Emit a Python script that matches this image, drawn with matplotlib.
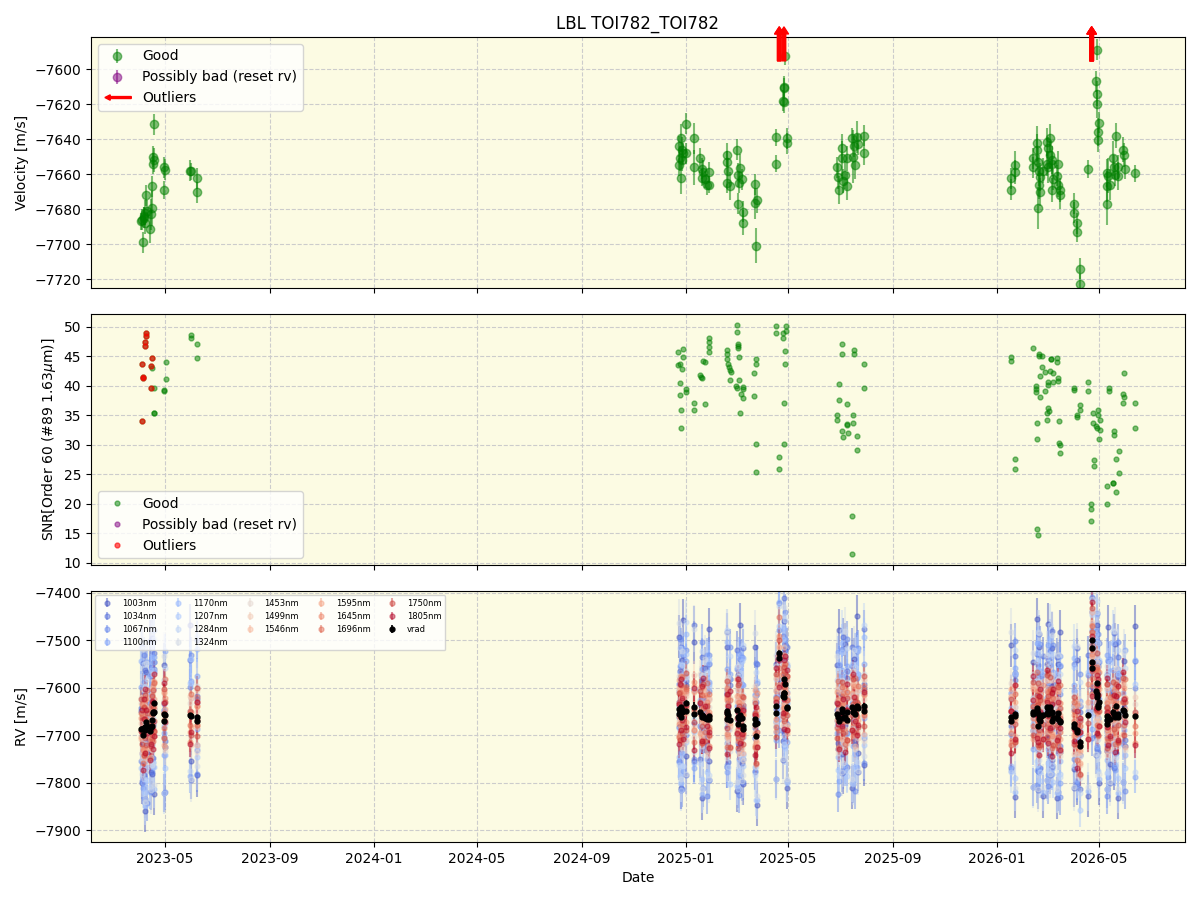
import numpy as np
import pandas as pd
import matplotlib
matplotlib.use("Agg")
import matplotlib.pyplot as plt
import matplotlib.dates as mdates
import matplotlib.patches as mpatches
from matplotlib.legend_handler import HandlerPatch

# ---------------- data (times in MJD) ----------------
T_GOOD = [60036.5, 60038.0, 60039.5, 60040.4, 60041.5, 60043.5, 60042.7, 60047.4, 60048.2, 60049.4,
          60049.6, 60051.3, 60051.5, 60052.5, 60052.1, 60064.4, 60064.6, 60064.2, 60094.9, 60095.3,
          60102.2, 60102.4, 60040.0, 60041.0,
          60676.4, 60670.1, 60668.5, 60668.7, 60671.3, 60673.2, 60676.0, 60670.3, 60669.5, 60672.0,
          60685.7, 60685.9, 60692.8, 60694.8, 60695.0, 60696.7, 60700.6, 60703.7, 60703.9, 60698.5,
          60724.1, 60724.3, 60724.5, 60726.0, 60728.0, 60735.8, 60737.7, 60737.9, 60738.9, 60739.7,
          60741.7, 60743.6, 60743.8, 60757.3, 60757.5, 60759.3, 60758.4, 60782.0, 60782.2, 60790.5,
          60791.4, 60792.0, 60791.6, 60792.6, 60794.5, 60794.7,
          60853.2, 60855.1, 60856.3, 60859.1, 60859.3, 60860.2, 60862.9, 60864.9, 60865.1, 60870.8,
          60872.0, 60873.5, 60874.7, 60876.7, 60878.5, 60885.2, 60885.4,
          61057.4, 61057.6, 61062.5, 61062.7, 61083.2, 61084.0, 61087.9, 61088.1, 61089.8, 61089.6,
          61090.6, 61090.8, 61091.8, 61092.0, 61095.7, 61099.7, 61099.9, 61101.2, 61101.4, 61103.5,
          61103.7, 61105.5, 61105.7, 61105.9, 61107.4, 61111.4, 61113.3, 61113.5, 61115.3, 61115.5,
          61131.7, 61131.9, 61135.6, 61135.8, 61138.8, 61139.0, 61148.5, 61158.4, 61157.5, 61159.0,
          61159.2, 61160.2, 61160.4, 61161.4, 61170.1, 61170.3, 61170.8, 61171.6, 61174.0, 61177.8,
          61178.7, 61179.8, 61181.0, 61183.7, 61183.9, 61189.6, 61190.4, 61191.6, 61203.3]
V_GOOD = [-7687, -7686, -7699, -7684, -7682, -7681, -7672, -7691.6, -7683, -7679.6,
          -7667, -7654, -7650, -7652, -7631.6, -7656, -7657.5, -7669, -7658, -7658.5,
          -7662.5, -7670.5, -7685, -7688,
          -7631.4, -7639.6, -7644, -7655, -7646, -7648, -7648, -7662.5, -7651, -7652,
          -7639.6, -7656, -7651, -7657, -7662, -7659, -7666, -7666, -7659, -7663,
          -7649, -7653, -7665, -7658, -7667, -7646, -7660.6, -7677, -7665, -7656.7,
          -7663, -7681.5, -7687.8, -7665.7, -7676.8, -7675, -7701, -7639, -7654, -7618,
          -7619, -7610, -7611, -7592.6, -7639.6, -7642.5,
          -7656, -7661.5, -7669, -7645, -7651, -7664, -7660.6, -7667, -7651, -7639.6,
          -7650, -7644, -7655, -7638.7, -7643, -7638, -7648,
          -7662.5, -7669, -7655, -7658.7, -7656, -7651, -7642.5, -7646, -7653, -7679.6,
          -7658, -7666, -7670, -7661.5, -7658, -7641.5, -7654, -7645, -7656, -7649,
          -7639.6, -7652, -7669, -7654, -7663, -7661, -7666, -7654, -7669, -7672,
          -7677, -7682, -7688, -7693, -7714, -7723, -7657, -7589, -7607, -7614,
          -7620, -7636, -7640.6, -7630.6, -7659.6, -7677, -7667, -7661, -7666, -7651,
          -7656, -7660.6, -7638, -7656, -7661, -7646, -7649, -7657, -7659.6]
E_GOOD = [5, 6, 6, 5, 7, 6, 6, 8, 9, 10,
          6, 6, 6, 7, 6, 6, 6, 5, 6, 5,
          6, 6, 6, 6,
          6, 8, 6, 6, 7, 6, 6, 9, 7, 6,
          9, 10, 6, 6, 5, 7, 6, 5, 6, 5,
          7, 6, 6, 7, 8, 6, 7, 6, 6, 8,
          6, 6, 7, 6, 9, 7, 10, 5, 5, 6,
          6, 6, 6, 5, 6, 6,
          6, 7, 8, 8, 10, 7, 8, 8, 7, 6,
          15, 6, 8, 9, 6, 6, 7,
          6, 6, 8, 7, 6, 6, 10, 9, 8, 12,
          9, 8, 8, 8, 7, 8, 7, 6, 9, 8,
          8, 8, 7, 7, 6, 6, 7, 7, 7, 8,
          6, 6, 6, 6, 6, 6, 5, 6, 6, 7,
          8, 8, 7, 6, 8, 12, 9, 10, 9, 10,
          7, 6, 7, 7, 8, 7, 7, 6, 5]

T_OUT = [60785.8, 60785.9, 60791.4, 61152.3, 61152.4, 61152.5, 61152.6]
V_OUT = [-7527, -7538, -7582, -7499, -7516, -7545, -7558]
E_OUT = [8, 8, 9, 10, 9, 9, 9]

# SNR panel
T_SNR = [60042.7, 60042.8, 60041.9, 60042.0, 60049.4, 60037.7, 60048.2, 60039.5, 60039.6, 60048.3, 60037.8,
         60049.5, 60052.5, 60051.7, 60051.8, 60065.8, 60065.9, 60064.2, 60064.3, 60095.5, 60095.6, 60102.2, 60102.3,
         60667.3, 60673.2, 60673.3, 60667.4, 60669.3, 60669.4, 60669.5, 60671.7, 60676.4, 60676.5, 60670.1, 60670.5,
         60686.1, 60686.2, 60699.0, 60699.1, 60692.8, 60694.0, 60694.8, 60696.7, 60703.7, 60703.8, 60703.9, 60704.0,
         60724.8, 60724.9, 60724.1, 60725.6, 60726.8, 60728.0, 60728.1, 60728.8, 60735.0, 60735.8, 60736.6, 60736.7,
         60737.7, 60737.8, 60737.9, 60738.5, 60738.9, 60742.9, 60743.0, 60743.1, 60740.5, 60740.1,
         60758.1, 60758.2, 60756.5, 60756.6, 60758.8, 60758.9, 60782.0, 60782.1, 60785.5, 60785.6,
         60793.7, 60794.0, 60790.5, 60790.6, 60792.9, 60793.0, 60791.7, 60791.8,
         60859.8, 60859.9, 60860.0, 60860.1, 60873.9, 60874.0, 60885.2, 60885.3, 60856.3, 60856.4,
         60865.6, 60853.9, 60854.0, 60864.9, 60865.0, 60872.7, 60872.8, 60866.8, 60877.4, 60877.5,
         60871.5, 60871.6,
         61058.1, 61058.2, 61062.8, 61062.9, 61084.0, 61090.6, 61090.7, 61094.2, 61104.7, 61104.8,
         61112.1, 61112.2, 61094.5, 61098.0, 61098.1, 61103.5, 61106.7, 61091.8, 61101.6, 61101.7,
         61101.8, 61101.9, 61107.4, 61113.3, 61113.4, 61087.5, 61087.6, 61087.7, 61092.2, 61100.4,
         61100.5, 61088.6, 61088.7, 61088.8, 61089.8, 61114.5, 61114.7, 61115.3, 61115.6, 61131.7,
         61131.8, 61135.6, 61135.7, 61139.1, 61139.2, 61148.5, 61148.6, 61154.4, 61154.5, 61160.2,
         61160.3, 61162.2, 61162.3, 61157.5, 61158.7, 61161.4, 61151.3, 61151.4, 61152.0, 61155.5,
         61155.6, 61173.1, 61173.2, 61179.0, 61179.1, 61184.9, 61185.0, 61181.4, 61181.5, 61177.8,
         61177.9, 61170.8, 61170.9, 61190.7, 61190.8, 61189.5, 61189.6, 61203.6, 61203.7]
S_SNR = [48.9, 48.5, 47.4, 46.8, 44.7, 43.8, 43.4, 41.5, 41.3, 39.6, 34.1,
         43.0, 39.6, 35.5, 35.4, 44.0, 41.1, 39.4, 39.1, 48.6, 48.1, 47.1, 44.7,
         45.7, 46.2, 44.9, 43.5, 43.7, 40.5, 38.4, 42.9, 39.5, 39.0, 36.0, 32.8,
         37.2, 35.9, 36.9, 44.1, 41.9, 41.6, 41.4, 44.3, 48.1, 47.5, 46.6, 45.8,
         46.1, 45.5, 44.5, 43.7, 43.3, 42.7, 41.0, 42.3, 40.0, 39.7, 50.3, 49.1,
         47.1, 46.8, 46.4, 44.9, 41.0, 39.8, 39.5, 37.9, 38.6, 35.5,
         44.5, 43.7, 42.2, 38.3, 30.1, 25.5, 50.2, 48.9, 27.9, 26.0,
         50.2, 49.4, 49.0, 48.2, 45.9, 43.8, 37.1, 30.1,
         47.2, 45.5, 32.3, 31.3, 46.1, 45.4, 43.8, 39.6, 40.3, 37.7,
         36.9, 35.0, 34.2, 33.5, 33.4, 35.0, 33.8, 32.0, 31.6, 29.1,
         17.9, 11.6,
         44.9, 44.2, 27.7, 25.9, 46.4, 45.5, 45.0, 45.0, 44.5, 44.5,
         44.7, 44.0, 43.2, 42.3, 39.2, 42.6, 42.2, 41.7, 40.7, 40.2,
         36.2, 35.8, 40.6, 41.3, 40.9, 40.0, 39.5, 39.0, 38.1, 35.4,
         34.2, 33.8, 31.0, 15.8, 14.8, 34.0, 30.3, 30.0, 28.6, 39.6,
         39.3, 35.0, 34.7, 36.8, 35.9, 40.6, 39.1, 35.4, 33.8, 36.0,
         35.0, 34.2, 32.5, 33.3, 32.8, 31.0, 20.0, 19.2, 17.2, 27.4,
         26.4, 39.7, 39.2, 32.4, 31.7, 28.9, 25.2, 27.7, 22.0, 23.6,
         23.5, 23.0, 20.0, 42.2, 38.1, 38.6, 37.1, 37.1, 32.8]
T_SNR_OUT = [60042.7, 60042.8, 60041.9, 60042.0, 60049.4, 60037.7, 60048.2, 60039.5, 60039.6, 60048.3, 60037.8]
S_SNR_OUT = [48.9, 48.5, 47.4, 46.8, 44.7, 43.8, 43.4, 41.5, 41.3, 39.6, 34.1]

# per-wavelength RV panel
BANDS = ["1003nm", "1034nm", "1067nm", "1100nm", "1170nm", "1207nm", "1284nm", "1324nm",
         "1453nm", "1499nm", "1546nm", "1595nm", "1645nm", "1696nm", "1750nm", "1805nm"]
BAND_SCATTER = [95, 90, 85, 80, 85, 75, 90, 95, 50, 45, 42, 40, 40, 42, 45, 50]   # m/s
BAND_ERR = [45, 40, 38, 35, 40, 35, 45, 50, 30, 28, 25, 22, 22, 22, 25, 28]       # m/s
DEV = [
    [0.4, -1.2, 1.6, -0.3, 0.9, -1.8, 0.2, 1.1, -0.7, 2.0, -1.0],
    [-0.6, 1.3, -1.5, 0.5, 1.9, -0.2, -1.1, 0.8, 1.4, -1.7, 0.1],
    [1.0, -0.4, 0.3, -1.9, 0.7, 1.5, -0.8, -1.3, 0.6, 0.2, 1.8],
    [-1.4, 0.6, 1.2, 0.1, -0.9, -0.5, 1.7, -1.6, 0.9, 1.1, -0.2],
    [0.8, 1.7, -0.6, -1.2, 0.3, 1.0, -1.9, 0.4, -0.3, -1.0, 1.4],
    [-0.2, -1.5, 0.9, 1.6, -1.1, 0.5, 0.7, -0.4, -1.8, 1.2, 0.3],
    [1.5, 0.2, -1.7, 0.8, 1.1, -1.3, 0.4, 1.9, -0.6, -0.1, -1.2],
    [-1.0, 1.9, 0.5, -0.7, -1.6, 0.9, 1.3, -0.2, 0.1, -1.4, 0.7],
    [0.5, -0.9, 1.1, -1.3, 0.2, 1.6, -0.4, -1.0, 1.3, 0.6, -1.5],
    [-0.8, 1.2, -0.2, 0.9, -1.4, 0.3, 1.5, -0.6, -1.1, 1.0, 0.4],
    [1.2, -0.3, -1.0, 1.4, 0.6, -1.6, 0.1, 0.9, -0.5, -1.2, 1.1],
    [-0.4, 0.8, 1.5, -1.1, -0.2, 0.7, -1.3, 1.2, 0.3, -0.9, -0.6],
    [0.9, -1.4, 0.2, 0.6, 1.3, -0.8, -0.1, -1.5, 1.6, 0.4, -0.3],
    [-1.2, 0.4, -0.7, 1.8, -0.5, 1.1, 0.8, -0.2, -1.4, 0.5, 1.0],
    [0.3, 1.0, -1.3, -0.4, 1.5, -1.1, 0.6, 0.2, -0.9, 1.4, -0.7],
    [-0.7, -0.1, 0.8, -1.5, 0.4, 1.2, -1.0, 1.6, 0.5, -0.3, -1.2],
]

# ---------------- helpers ----------------
def mjd2dt(m):
    return pd.to_datetime(np.asarray(m, dtype=float), unit="D", origin=pd.Timestamp("1858-11-17"))

def mjd2num(m):
    return mdates.date2num(mjd2dt(m).to_pydatetime())

BG = "#fcfbe3"

class HandlerArrow(HandlerPatch):
    def create_artists(self, legend, orig_handle, xdescent, ydescent, width, height, fontsize, trans):
        p = mpatches.FancyArrow(width - xdescent, 0.5 * height - ydescent, -width * 0.95, 0,
                                width=height * 0.2, head_width=height * 0.55, head_length=height * 0.55,
                                length_includes_head=True, color="red")
        p.set_transform(trans)
        return [p]

fig = plt.figure(figsize=(12, 9), dpi=100)
L, W = 91 / 1200, (1185 - 91) / 1200
H = 251 / 900
ax1 = fig.add_axes([L, 1 - 288 / 900, W, H])
ax2 = fig.add_axes([L, 1 - 565 / 900, W, H], sharex=ax1)
ax3 = fig.add_axes([L, 1 - 842 / 900, W, H], sharex=ax1)

for ax in (ax1, ax2, ax3):
    ax.set_facecolor(BG)
    ax.grid(True, linestyle="--", color="0.8", linewidth=0.8)
    ax.set_axisbelow(True)

# ---- top panel ----
ax1.errorbar(mjd2num(T_GOOD), V_GOOD, yerr=E_GOOD, fmt="o", color="green", ms=6, alpha=0.5,
             elinewidth=1.5, label="Good")
ax1.errorbar([], [], yerr=[], fmt="o", color="purple", ms=6, alpha=0.5, elinewidth=1.5,
             label="Possibly bad (reset rv)")
ax1.set_ylim(-7725.1, -7581.7)
for t in mjd2num(T_OUT):
    ax1.annotate("", xy=(t, 1.04), xytext=(t, 0.905),
                 xycoords=ax1.get_xaxis_transform(), textcoords=ax1.get_xaxis_transform(),
                 arrowprops=dict(facecolor="red", edgecolor="red", width=2.5, headwidth=6.5,
                                 headlength=5),
                 annotation_clip=False)
arrow_handle = mpatches.FancyArrow(0, 0, 1, 0, color="red")
h, l = ax1.get_legend_handles_labels()
ax1.legend(h + [arrow_handle], l + ["Outliers"], loc="upper left", fontsize=10,
           handler_map={mpatches.FancyArrow: HandlerArrow()})
ax1.set_ylabel("Velocity [m/s]")
ax1.set_title("LBL TOI782_TOI782", fontsize=12)

# ---- SNR panel ----
ax2.plot(mjd2num(T_SNR), S_SNR, "o", color="green", ms=3.5, alpha=0.5, label="Good")
ax2.plot([], [], "o", color="purple", ms=3.5, alpha=0.5, label="Possibly bad (reset rv)")
ax2.plot(mjd2num(T_SNR_OUT), S_SNR_OUT, "o", color="red", ms=3.5, alpha=0.6, label="Outliers")
ax2.set_ylim(9.66, 52.2)
ax2.legend(loc="lower left", fontsize=10)
ax2.set_ylabel(r"SNR[Order 60 (#89 1.63$\mu$m)]")

# ---- per-band RV panel ----
t_all = np.array(T_GOOD + T_OUT)
v_all = np.array(V_GOOD + V_OUT)
e_all = np.array(E_GOOD + E_OUT)
order = np.argsort(t_all)
t_all, v_all, e_all = t_all[order], v_all[order], e_all[order]
x_all = mjd2num(t_all)
cmap = plt.get_cmap("coolwarm")
n = len(BANDS)
for b, name in enumerate(BANDS):
    dev = np.array([DEV[b][(i + 3 * b) % len(DEV[b])] for i in range(len(t_all))]) * BAND_SCATTER[b]
    ax3.errorbar(x_all, v_all + dev, yerr=BAND_ERR[b], fmt="o", color=cmap(b / (n - 1)),
                 ms=3.5, alpha=0.45, elinewidth=1.5, label=name)
ax3.errorbar(x_all, v_all, yerr=e_all, fmt="o", color="black", ms=3.5, elinewidth=1.2, label="vrad")
ax3.set_ylim(-7925, -7396)
ax3.legend(loc="upper left", ncol=5, fontsize=6, columnspacing=1.6)
ax3.set_ylabel("RV [m/s]")
ax3.set_xlabel("Date")

ax3.xaxis_date()
ax3.xaxis.set_major_locator(mdates.MonthLocator(bymonth=[1, 5, 9]))
ax3.xaxis.set_major_formatter(mdates.DateFormatter("%Y-%m"))
ax3.set_xlim(mjd2num([59978.2])[0], mjd2num([61262.0])[0])
plt.setp(ax1.get_xticklabels(), visible=False)
plt.setp(ax2.get_xticklabels(), visible=False)

fig.savefig("out.png", dpi=100)
